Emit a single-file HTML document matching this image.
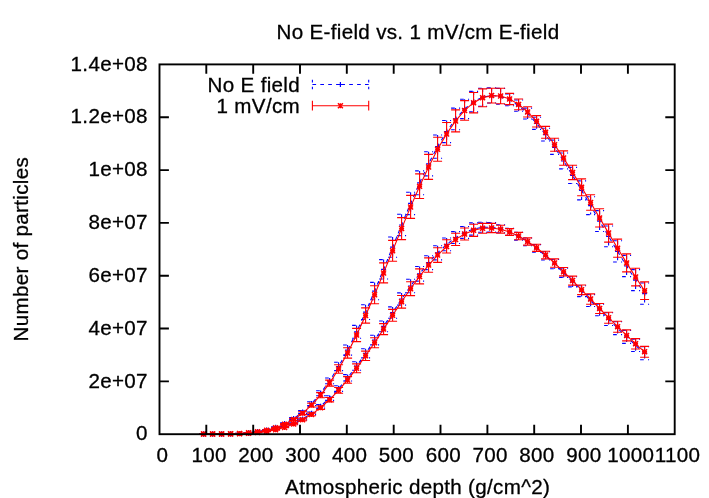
<!DOCTYPE html>
<html><head><meta charset="utf-8"><title>No E-field vs. 1 mV/cm E-field</title>
<style>
html,body{margin:0;padding:0;background:#fff;}
body{width:709px;height:498px;overflow:hidden;}
svg{display:block;will-change:transform;}
text{font-family:"Liberation Sans",sans-serif;font-size:20.6px;letter-spacing:0.31px;fill:#000;stroke:#000;stroke-width:0.3px;}
</style></head><body>
<svg width="709" height="498" viewBox="0 0 709 498">
<rect width="709" height="498" fill="#fff"/>
<g id="blue">
<polyline fill="none" stroke="#0000ff" stroke-width="1.1" stroke-dasharray="3.7 4.2" points="203.6,434.1 212.6,434.0 221.6,433.9 230.6,433.7 239.6,433.4 248.6,432.7 257.6,431.6 266.6,429.9 275.6,427.3 284.6,423.6 293.6,418.6 302.6,412.0 311.6,403.6 320.6,393.3 329.6,380.9 338.6,366.5 347.6,350.1 356.6,331.8 365.6,312.1 374.6,291.1 383.6,269.3 392.6,247.1 401.6,225.0 410.6,203.4 419.6,182.9 428.6,163.8 437.6,146.6 446.6,131.6 455.6,118.9 464.6,108.9 473.6,101.6 482.6,97.2 491.6,95.4 500.6,96.4 509.6,99.9 518.6,105.6 527.6,113.5 536.6,123.3 545.6,134.6 554.6,147.3 563.6,161.0 572.6,175.4 581.6,190.4 590.6,205.7 599.6,221.1 608.6,236.4 617.6,251.4 626.6,266.0 635.6,280.1 644.6,293.6"/>
<path fill="none" stroke="#0000ff" stroke-width="1.1" stroke-dasharray="3.7 4.2" d="M203.6 434.1V434.1M199.1 434.1H208.1M199.1 434.1H208.1M212.6 434.0V434.0M208.1 434.0H217.1M208.1 434.0H217.1M221.6 433.9V434.0M217.1 433.9H226.1M217.1 434.0H226.1M230.6 433.7V433.8M226.1 433.7H235.1M226.1 433.8H235.1M239.6 433.3V433.4M235.1 433.3H244.1M235.1 433.4H244.1M248.6 432.6V432.8M244.1 432.6H253.1M244.1 432.8H253.1M257.6 431.4V431.7M253.1 431.4H262.1M253.1 431.7H262.1M266.6 429.6V430.1M262.1 429.6H271.1M262.1 430.1H271.1M275.6 426.8V427.7M271.1 426.8H280.1M271.1 427.7H280.1M284.6 422.9V424.3M280.1 422.9H289.1M280.1 424.3H289.1M293.6 417.6V419.6M289.1 417.6H298.1M289.1 419.6H298.1M302.6 410.6V413.4M298.1 410.6H307.1M298.1 413.4H307.1M311.6 401.7V405.5M307.1 401.7H316.1M307.1 405.5H316.1M320.6 390.7V395.8M316.1 390.7H325.1M316.1 395.8H325.1M329.6 378.0V383.8M325.1 378.0H334.1M325.1 383.8H334.1M338.6 362.3V370.6M334.1 362.3H343.1M334.1 370.6H343.1M347.6 345.0V355.1M343.1 345.0H352.1M343.1 355.1H352.1M356.6 325.4V338.3M352.1 325.4H361.1M352.1 338.3H361.1M365.6 304.7V319.5M361.1 304.7H370.1M361.1 319.5H370.1M374.6 282.4V299.8M370.1 282.4H379.1M370.1 299.8H379.1M383.6 259.6V279.0M379.1 259.6H388.1M379.1 279.0H388.1M392.6 237.0V257.2M388.1 237.0H397.1M388.1 257.2H397.1M401.6 214.3V235.6M397.1 214.3H406.1M397.1 235.6H406.1M410.6 192.2V214.6M406.1 192.2H415.1M406.1 214.6H415.1M419.6 170.9V194.8M415.1 170.9H424.1M415.1 194.8H424.1M428.6 151.7V175.9M424.1 151.7H433.1M424.1 175.9H433.1M437.6 135.0V158.2M433.1 135.0H442.1M433.1 158.2H442.1M446.6 120.5V142.6M442.1 120.5H451.1M442.1 142.6H451.1M455.6 108.1V129.7M451.1 108.1H460.1M451.1 129.7H460.1M464.6 99.2V118.6M460.1 99.2H469.1M460.1 118.6H469.1M473.6 91.4V111.9M469.1 91.4H478.1M469.1 111.9H478.1M482.6 88.2V106.2M478.1 88.2H487.1M478.1 106.2H487.1M491.6 87.9V103.0M487.1 87.9H496.1M487.1 103.0H496.1M500.6 88.4V104.3M496.1 88.4H505.1M496.1 104.3H505.1M509.6 94.0V105.7M505.1 94.0H514.1M505.1 105.7H514.1M518.6 100.0V111.3M514.1 100.0H523.1M514.1 111.3H523.1M527.6 108.1V119.0M523.1 108.1H532.1M523.1 119.0H532.1M536.6 117.2V129.4M532.1 117.2H541.1M532.1 129.4H541.1M545.6 128.2V141.0M541.1 128.2H550.1M541.1 141.0H550.1M554.6 140.1V154.4M550.1 140.1H559.1M550.1 154.4H559.1M563.6 153.0V168.9M559.1 153.0H568.1M559.1 168.9H568.1M572.6 167.4V183.5M568.1 167.4H577.1M568.1 183.5H577.1M581.6 180.9V199.9M577.1 180.9H586.1M577.1 199.9H586.1M590.6 196.8V214.6M586.1 196.8H595.1M586.1 214.6H595.1M599.6 210.6V231.5M595.1 210.6H604.1M595.1 231.5H604.1M608.6 226.0V246.8M604.1 226.0H613.1M604.1 246.8H613.1M617.6 240.8V262.0M613.1 240.8H622.1M613.1 262.0H622.1M626.6 255.4V276.6M622.1 255.4H631.1M622.1 276.6H631.1M635.6 269.6V290.6M631.1 269.6H640.1M631.1 290.6H640.1M644.6 283.0V304.2M640.1 283.0H649.1M640.1 304.2H649.1"/>
<path fill="none" stroke="#0000ff" stroke-width="1.2" d="M201.1 434.1h5M203.6 431.6v5M210.1 434.0h5M212.6 431.5v5M219.1 433.9h5M221.6 431.4v5M228.1 433.7h5M230.6 431.2v5M237.1 433.4h5M239.6 430.9v5M246.1 432.7h5M248.6 430.2v5M255.1 431.6h5M257.6 429.1v5M264.1 429.9h5M266.6 427.4v5M273.1 427.3h5M275.6 424.8v5M282.1 423.6h5M284.6 421.1v5M291.1 418.6h5M293.6 416.1v5M300.1 412.0h5M302.6 409.5v5M309.1 403.6h5M311.6 401.1v5M318.1 393.3h5M320.6 390.8v5M327.1 380.9h5M329.6 378.4v5M336.1 366.5h5M338.6 364.0v5M345.1 350.1h5M347.6 347.6v5M354.1 331.8h5M356.6 329.3v5M363.1 312.1h5M365.6 309.6v5M372.1 291.1h5M374.6 288.6v5M381.1 269.3h5M383.6 266.8v5M390.1 247.1h5M392.6 244.6v5M399.1 225.0h5M401.6 222.5v5M408.1 203.4h5M410.6 200.9v5M417.1 182.9h5M419.6 180.4v5M426.1 163.8h5M428.6 161.3v5M435.1 146.6h5M437.6 144.1v5M444.1 131.6h5M446.6 129.1v5M453.1 118.9h5M455.6 116.4v5M462.1 108.9h5M464.6 106.4v5M471.1 101.6h5M473.6 99.1v5M480.1 97.2h5M482.6 94.7v5M489.1 95.4h5M491.6 92.9v5M498.1 96.4h5M500.6 93.9v5M507.1 99.9h5M509.6 97.4v5M516.1 105.6h5M518.6 103.1v5M525.1 113.5h5M527.6 111.0v5M534.1 123.3h5M536.6 120.8v5M543.1 134.6h5M545.6 132.1v5M552.1 147.3h5M554.6 144.8v5M561.1 161.0h5M563.6 158.5v5M570.1 175.4h5M572.6 172.9v5M579.1 190.4h5M581.6 187.9v5M588.1 205.7h5M590.6 203.2v5M597.1 221.1h5M599.6 218.6v5M606.1 236.4h5M608.6 233.9v5M615.1 251.4h5M617.6 248.9v5M624.1 266.0h5M626.6 263.5v5M633.1 280.1h5M635.6 277.6v5M642.1 293.6h5M644.6 291.1v5"/>
<polyline fill="none" stroke="#0000ff" stroke-width="1.1" stroke-dasharray="3.7 4.2" points="203.6,434.1 212.6,434.1 221.6,434.0 230.6,433.9 239.6,433.6 248.6,433.2 257.6,432.4 266.6,431.2 275.6,429.4 284.6,426.9 293.6,423.5 302.6,419.0 311.6,413.3 320.6,406.3 329.6,398.1 338.6,388.6 347.6,377.8 356.6,366.0 365.6,353.4 374.6,340.0 383.6,326.3 392.6,312.6 401.6,299.0 410.6,286.0 419.6,273.8 428.6,262.7 437.6,252.8 446.6,244.4 455.6,237.6 464.6,232.4 473.6,229.0 482.6,227.3 491.6,227.3 500.6,228.8 509.6,231.9 518.6,236.2 527.6,241.8 536.6,248.4 545.6,255.9 554.6,264.1 563.6,272.8 572.6,281.9 581.6,291.2 590.6,300.6 599.6,309.9 608.6,319.2 617.6,328.2 626.6,336.9 635.6,345.3 644.6,353.2"/>
<path fill="none" stroke="#0000ff" stroke-width="1.1" stroke-dasharray="3.7 4.2" d="M203.6 434.1V434.1M199.1 434.1H208.1M199.1 434.1H208.1M212.6 434.1V434.1M208.1 434.1H217.1M208.1 434.1H217.1M221.6 434.0V434.0M217.1 434.0H226.1M217.1 434.0H226.1M230.6 433.9V433.9M226.1 433.9H235.1M226.1 433.9H235.1M239.6 433.6V433.7M235.1 433.6H244.1M235.1 433.7H244.1M248.6 433.1V433.2M244.1 433.1H253.1M244.1 433.2H253.1M257.6 432.3V432.5M253.1 432.3H262.1M253.1 432.5H262.1M266.6 431.0V431.4M262.1 431.0H271.1M262.1 431.4H271.1M275.6 429.1V429.7M271.1 429.1H280.1M271.1 429.7H280.1M284.6 426.4V427.3M280.1 426.4H289.1M280.1 427.3H289.1M293.6 422.8V424.1M289.1 422.8H298.1M289.1 424.1H298.1M302.6 418.0V419.9M298.1 418.0H307.1M298.1 419.9H307.1M311.6 412.0V414.6M307.1 412.0H316.1M307.1 414.6H316.1M320.6 404.6V408.1M316.1 404.6H325.1M316.1 408.1H325.1M329.6 395.8V400.4M325.1 395.8H334.1M325.1 400.4H334.1M338.6 385.8V391.4M334.1 385.8H343.1M334.1 391.4H343.1M347.6 374.6V381.0M343.1 374.6H352.1M343.1 381.0H352.1M356.6 361.8V370.3M352.1 361.8H361.1M352.1 370.3H361.1M365.6 348.8V357.9M361.1 348.8H370.1M361.1 357.9H370.1M374.6 335.2V344.9M370.1 335.2H379.1M370.1 344.9H379.1M383.6 321.0V331.7M379.1 321.0H388.1M379.1 331.7H388.1M392.6 306.9V318.3M388.1 306.9H397.1M388.1 318.3H397.1M401.6 292.9V305.1M397.1 292.9H406.1M397.1 305.1H406.1M410.6 279.3V292.7M406.1 279.3H415.1M406.1 292.7H415.1M419.6 266.5V281.1M415.1 266.5H424.1M415.1 281.1H424.1M428.6 255.7V269.6M424.1 255.7H433.1M424.1 269.6H433.1M437.6 245.7V259.9M433.1 245.7H442.1M433.1 259.9H442.1M446.6 238.0V250.8M442.1 238.0H451.1M442.1 250.8H451.1M455.6 231.6V243.5M451.1 231.6H460.1M451.1 243.5H460.1M464.6 226.5V238.4M460.1 226.5H469.1M460.1 238.4H469.1M473.6 222.9V235.1M469.1 222.9H478.1M469.1 235.1H478.1M482.6 222.3V232.2M478.1 222.3H487.1M478.1 232.2H487.1M491.6 222.5V232.0M487.1 222.5H496.1M487.1 232.0H496.1M500.6 224.8V232.8M496.1 224.8H505.1M496.1 232.8H505.1M509.6 228.3V235.4M505.1 228.3H514.1M505.1 235.4H514.1M518.6 232.3V240.1M514.1 232.3H523.1M514.1 240.1H523.1M527.6 238.0V245.7M523.1 238.0H532.1M523.1 245.7H532.1M536.6 244.6V252.3M532.1 244.6H541.1M532.1 252.3H541.1M545.6 251.8V260.0M541.1 251.8H550.1M541.1 260.0H550.1M554.6 259.5V268.7M550.1 259.5H559.1M550.1 268.7H559.1M563.6 268.1V277.4M559.1 268.1H568.1M559.1 277.4H568.1M572.6 276.8V286.9M568.1 276.8H577.1M568.1 286.9H577.1M581.6 285.7V296.6M577.1 285.7H586.1M577.1 296.6H586.1M590.6 294.6V306.5M586.1 294.6H595.1M586.1 306.5H595.1M599.6 304.2V315.7M595.1 304.2H604.1M595.1 315.7H604.1M608.6 312.8V325.5M604.1 312.8H613.1M604.1 325.5H613.1M617.6 321.8V334.6M613.1 321.8H622.1M613.1 334.6H622.1M626.6 330.4V343.4M622.1 330.4H631.1M622.1 343.4H631.1M635.6 339.1V351.5M631.1 339.1H640.1M631.1 351.5H640.1M644.6 346.8V359.7M640.1 346.8H649.1M640.1 359.7H649.1"/>
<path fill="none" stroke="#0000ff" stroke-width="1.2" d="M201.1 434.1h5M203.6 431.6v5M210.1 434.1h5M212.6 431.6v5M219.1 434.0h5M221.6 431.5v5M228.1 433.9h5M230.6 431.4v5M237.1 433.6h5M239.6 431.1v5M246.1 433.2h5M248.6 430.7v5M255.1 432.4h5M257.6 429.9v5M264.1 431.2h5M266.6 428.7v5M273.1 429.4h5M275.6 426.9v5M282.1 426.9h5M284.6 424.4v5M291.1 423.5h5M293.6 421.0v5M300.1 419.0h5M302.6 416.5v5M309.1 413.3h5M311.6 410.8v5M318.1 406.3h5M320.6 403.8v5M327.1 398.1h5M329.6 395.6v5M336.1 388.6h5M338.6 386.1v5M345.1 377.8h5M347.6 375.3v5M354.1 366.0h5M356.6 363.5v5M363.1 353.4h5M365.6 350.9v5M372.1 340.0h5M374.6 337.5v5M381.1 326.3h5M383.6 323.8v5M390.1 312.6h5M392.6 310.1v5M399.1 299.0h5M401.6 296.5v5M408.1 286.0h5M410.6 283.5v5M417.1 273.8h5M419.6 271.3v5M426.1 262.7h5M428.6 260.2v5M435.1 252.8h5M437.6 250.3v5M444.1 244.4h5M446.6 241.9v5M453.1 237.6h5M455.6 235.1v5M462.1 232.4h5M464.6 229.9v5M471.1 229.0h5M473.6 226.5v5M480.1 227.3h5M482.6 224.8v5M489.1 227.3h5M491.6 224.8v5M498.1 228.8h5M500.6 226.3v5M507.1 231.9h5M509.6 229.4v5M516.1 236.2h5M518.6 233.7v5M525.1 241.8h5M527.6 239.3v5M534.1 248.4h5M536.6 245.9v5M543.1 255.9h5M545.6 253.4v5M552.1 264.1h5M554.6 261.6v5M561.1 272.8h5M563.6 270.3v5M570.1 281.9h5M572.6 279.4v5M579.1 291.2h5M581.6 288.7v5M588.1 300.6h5M590.6 298.1v5M597.1 309.9h5M599.6 307.4v5M606.1 319.2h5M608.6 316.7v5M615.1 328.2h5M617.6 325.7v5M624.1 336.9h5M626.6 334.4v5M633.1 345.3h5M635.6 342.8v5M642.1 353.2h5M644.6 350.7v5"/>
</g>
<g id="red">
<polyline fill="none" stroke="#ff0000" stroke-width="1.1" points="203.6,434.1 212.6,434.0 221.6,434.0 230.6,433.8 239.6,433.4 248.6,432.8 257.6,431.8 266.6,430.2 275.6,427.8 284.6,424.3 293.6,419.5 302.6,413.2 311.6,405.1 320.6,395.1 329.6,383.1 338.6,369.0 347.6,352.9 356.6,335.0 365.6,315.5 374.6,294.7 383.6,272.9 392.6,250.8 401.6,228.6 410.6,206.9 419.6,186.2 428.6,166.9 437.6,149.3 446.6,133.9 455.6,120.9 464.6,110.4 473.6,102.7 482.6,97.8 491.6,95.6 500.6,96.0 509.6,99.0 518.6,104.4 527.6,111.9 536.6,121.3 545.6,132.3 554.6,144.7 563.6,158.1 572.6,172.4 581.6,187.3 590.6,202.5 599.6,217.9 608.6,233.1 617.6,248.2 626.6,262.9 635.6,277.1 644.6,290.7"/>
<path fill="none" stroke="#ff0000" stroke-width="1.1" d="M203.6 434.1V434.1M199.1 434.1H208.1M199.1 434.1H208.1M212.6 434.0V434.1M208.1 434.0H217.1M208.1 434.1H217.1M221.6 434.0V434.0M217.1 434.0H226.1M217.1 434.0H226.1M230.6 433.8V433.8M226.1 433.8H235.1M226.1 433.8H235.1M239.6 433.4V433.5M235.1 433.4H244.1M235.1 433.5H244.1M248.6 432.8V432.9M244.1 432.8H253.1M244.1 432.9H253.1M257.6 431.7V432.0M253.1 431.7H262.1M253.1 432.0H262.1M266.6 429.9V430.4M262.1 429.9H271.1M262.1 430.4H271.1M275.6 427.4V428.2M271.1 427.4H280.1M271.1 428.2H280.1M284.6 423.6V424.9M280.1 423.6H289.1M280.1 424.9H289.1M293.6 418.6V420.5M289.1 418.6H298.1M289.1 420.5H298.1M302.6 411.8V414.6M298.1 411.8H307.1M298.1 414.6H307.1M311.6 403.2V407.0M307.1 403.2H316.1M307.1 407.0H316.1M320.6 392.6V397.7M316.1 392.6H325.1M316.1 397.7H325.1M329.6 380.1V386.1M325.1 380.1H334.1M325.1 386.1H334.1M338.6 364.7V373.3M334.1 364.7H343.1M334.1 373.3H343.1M347.6 347.7V358.1M343.1 347.7H352.1M343.1 358.1H352.1M356.6 328.4V341.6M352.1 328.4H361.1M352.1 341.6H361.1M365.6 307.9V323.1M361.1 307.9H370.1M361.1 323.1H370.1M374.6 285.7V303.7M370.1 285.7H379.1M370.1 303.7H379.1M383.6 262.9V282.9M379.1 262.9H388.1M379.1 282.9H388.1M392.6 240.4V261.2M388.1 240.4H397.1M388.1 261.2H397.1M401.6 217.6V239.6M397.1 217.6H406.1M397.1 239.6H406.1M410.6 195.4V218.4M406.1 195.4H415.1M406.1 218.4H415.1M419.6 173.9V198.5M415.1 173.9H424.1M415.1 198.5H424.1M428.6 154.4V179.4M424.1 154.4H433.1M424.1 179.4H433.1M437.6 137.3V161.3M433.1 137.3H442.1M433.1 161.3H442.1M446.6 122.5V145.3M442.1 122.5H451.1M442.1 145.3H451.1M455.6 109.9V131.9M451.1 109.9H460.1M451.1 131.9H460.1M464.6 100.6V120.2M460.1 100.6H469.1M460.1 120.2H469.1M473.6 92.5V112.9M469.1 92.5H478.1M469.1 112.9H478.1M482.6 88.9V106.7M478.1 88.9H487.1M478.1 106.7H487.1M491.6 88.2V103.0M487.1 88.2H496.1M487.1 103.0H496.1M500.6 88.3V103.7M496.1 88.3H505.1M496.1 103.7H505.1M509.6 93.4V104.6M505.1 93.4H514.1M505.1 104.6H514.1M518.6 99.0V109.8M514.1 99.0H523.1M514.1 109.8H523.1M527.6 106.8V117.0M523.1 106.8H532.1M523.1 117.0H532.1M536.6 115.6V127.0M532.1 115.6H541.1M532.1 127.0H541.1M545.6 126.4V138.2M541.1 126.4H550.1M541.1 138.2H550.1M554.6 138.2V151.2M550.1 138.2H559.1M550.1 151.2H559.1M563.6 150.9V165.3M559.1 150.9H568.1M559.1 165.3H568.1M572.6 165.2V179.6M568.1 165.2H577.1M568.1 179.6H577.1M581.6 178.9V195.7M577.1 178.9H586.1M577.1 195.7H586.1M590.6 194.7V210.3M586.1 194.7H595.1M586.1 210.3H595.1M599.6 208.8V227.0M595.1 208.8H604.1M595.1 227.0H604.1M608.6 224.1V242.1M604.1 224.1H613.1M604.1 242.1H613.1M617.6 239.1V257.3M613.1 239.1H622.1M613.1 257.3H622.1M626.6 253.9V271.9M622.1 253.9H631.1M622.1 271.9H631.1M635.6 268.3V285.9M631.1 268.3H640.1M631.1 285.9H640.1M644.6 281.9V299.5M640.1 281.9H649.1M640.1 299.5H649.1"/>
<path fill="none" stroke="#ff0000" stroke-width="1.4" d="M201.1 431.6l5 5M201.1 436.6l5 -5M201.1 434.1h5M203.6 431.6v5M210.1 431.5l5 5M210.1 436.5l5 -5M210.1 434.0h5M212.6 431.5v5M219.1 431.5l5 5M219.1 436.5l5 -5M219.1 434.0h5M221.6 431.5v5M228.1 431.3l5 5M228.1 436.3l5 -5M228.1 433.8h5M230.6 431.3v5M237.1 430.9l5 5M237.1 435.9l5 -5M237.1 433.4h5M239.6 430.9v5M246.1 430.3l5 5M246.1 435.3l5 -5M246.1 432.8h5M248.6 430.3v5M255.1 429.3l5 5M255.1 434.3l5 -5M255.1 431.8h5M257.6 429.3v5M264.1 427.7l5 5M264.1 432.7l5 -5M264.1 430.2h5M266.6 427.7v5M273.1 425.3l5 5M273.1 430.3l5 -5M273.1 427.8h5M275.6 425.3v5M282.1 421.8l5 5M282.1 426.8l5 -5M282.1 424.3h5M284.6 421.8v5M291.1 417.0l5 5M291.1 422.0l5 -5M291.1 419.5h5M293.6 417.0v5M300.1 410.7l5 5M300.1 415.7l5 -5M300.1 413.2h5M302.6 410.7v5M309.1 402.6l5 5M309.1 407.6l5 -5M309.1 405.1h5M311.6 402.6v5M318.1 392.6l5 5M318.1 397.6l5 -5M318.1 395.1h5M320.6 392.6v5M327.1 380.6l5 5M327.1 385.6l5 -5M327.1 383.1h5M329.6 380.6v5M336.1 366.5l5 5M336.1 371.5l5 -5M336.1 369.0h5M338.6 366.5v5M345.1 350.4l5 5M345.1 355.4l5 -5M345.1 352.9h5M347.6 350.4v5M354.1 332.5l5 5M354.1 337.5l5 -5M354.1 335.0h5M356.6 332.5v5M363.1 313.0l5 5M363.1 318.0l5 -5M363.1 315.5h5M365.6 313.0v5M372.1 292.2l5 5M372.1 297.2l5 -5M372.1 294.7h5M374.6 292.2v5M381.1 270.4l5 5M381.1 275.4l5 -5M381.1 272.9h5M383.6 270.4v5M390.1 248.3l5 5M390.1 253.3l5 -5M390.1 250.8h5M392.6 248.3v5M399.1 226.1l5 5M399.1 231.1l5 -5M399.1 228.6h5M401.6 226.1v5M408.1 204.4l5 5M408.1 209.4l5 -5M408.1 206.9h5M410.6 204.4v5M417.1 183.7l5 5M417.1 188.7l5 -5M417.1 186.2h5M419.6 183.7v5M426.1 164.4l5 5M426.1 169.4l5 -5M426.1 166.9h5M428.6 164.4v5M435.1 146.8l5 5M435.1 151.8l5 -5M435.1 149.3h5M437.6 146.8v5M444.1 131.4l5 5M444.1 136.4l5 -5M444.1 133.9h5M446.6 131.4v5M453.1 118.4l5 5M453.1 123.4l5 -5M453.1 120.9h5M455.6 118.4v5M462.1 107.9l5 5M462.1 112.9l5 -5M462.1 110.4h5M464.6 107.9v5M471.1 100.2l5 5M471.1 105.2l5 -5M471.1 102.7h5M473.6 100.2v5M480.1 95.3l5 5M480.1 100.3l5 -5M480.1 97.8h5M482.6 95.3v5M489.1 93.1l5 5M489.1 98.1l5 -5M489.1 95.6h5M491.6 93.1v5M498.1 93.5l5 5M498.1 98.5l5 -5M498.1 96.0h5M500.6 93.5v5M507.1 96.5l5 5M507.1 101.5l5 -5M507.1 99.0h5M509.6 96.5v5M516.1 101.9l5 5M516.1 106.9l5 -5M516.1 104.4h5M518.6 101.9v5M525.1 109.4l5 5M525.1 114.4l5 -5M525.1 111.9h5M527.6 109.4v5M534.1 118.8l5 5M534.1 123.8l5 -5M534.1 121.3h5M536.6 118.8v5M543.1 129.8l5 5M543.1 134.8l5 -5M543.1 132.3h5M545.6 129.8v5M552.1 142.2l5 5M552.1 147.2l5 -5M552.1 144.7h5M554.6 142.2v5M561.1 155.6l5 5M561.1 160.6l5 -5M561.1 158.1h5M563.6 155.6v5M570.1 169.9l5 5M570.1 174.9l5 -5M570.1 172.4h5M572.6 169.9v5M579.1 184.8l5 5M579.1 189.8l5 -5M579.1 187.3h5M581.6 184.8v5M588.1 200.0l5 5M588.1 205.0l5 -5M588.1 202.5h5M590.6 200.0v5M597.1 215.4l5 5M597.1 220.4l5 -5M597.1 217.9h5M599.6 215.4v5M606.1 230.6l5 5M606.1 235.6l5 -5M606.1 233.1h5M608.6 230.6v5M615.1 245.7l5 5M615.1 250.7l5 -5M615.1 248.2h5M617.6 245.7v5M624.1 260.4l5 5M624.1 265.4l5 -5M624.1 262.9h5M626.6 260.4v5M633.1 274.6l5 5M633.1 279.6l5 -5M633.1 277.1h5M635.6 274.6v5M642.1 288.2l5 5M642.1 293.2l5 -5M642.1 290.7h5M644.6 288.2v5"/>
<polyline fill="none" stroke="#ff0000" stroke-width="1.1" points="203.6,434.1 212.6,434.1 221.6,434.0 230.6,433.9 239.6,433.7 248.6,433.3 257.6,432.6 266.6,431.5 275.6,429.8 284.6,427.4 293.6,424.1 302.6,419.8 311.6,414.4 320.6,407.7 329.6,399.7 338.6,390.4 347.6,379.9 356.6,368.3 365.6,355.8 374.6,342.7 383.6,329.1 392.6,315.3 401.6,301.8 410.6,288.7 419.6,276.4 428.6,265.1 437.6,255.1 446.6,246.4 455.6,239.4 464.6,234.0 473.6,230.3 482.6,228.3 491.6,228.0 500.6,229.2 509.6,232.0 518.6,236.1 527.6,241.5 536.6,247.8 545.6,255.1 554.6,263.1 563.6,271.7 572.6,280.6 581.6,289.8 590.6,299.1 599.6,308.5 608.6,317.7 617.6,326.7 626.6,335.4 635.6,343.8 644.6,351.8"/>
<path fill="none" stroke="#ff0000" stroke-width="1.1" d="M203.6 434.1V434.1M199.1 434.1H208.1M199.1 434.1H208.1M212.6 434.1V434.1M208.1 434.1H217.1M208.1 434.1H217.1M221.6 434.0V434.0M217.1 434.0H226.1M217.1 434.0H226.1M230.6 433.9V433.9M226.1 433.9H235.1M226.1 433.9H235.1M239.6 433.6V433.7M235.1 433.6H244.1M235.1 433.7H244.1M248.6 433.2V433.3M244.1 433.2H253.1M244.1 433.3H253.1M257.6 432.5V432.7M253.1 432.5H262.1M253.1 432.7H262.1M266.6 431.3V431.6M262.1 431.3H271.1M262.1 431.6H271.1M275.6 429.5V430.1M271.1 429.5H280.1M271.1 430.1H280.1M284.6 427.0V427.8M280.1 427.0H289.1M280.1 427.8H289.1M293.6 423.5V424.8M289.1 423.5H298.1M289.1 424.8H298.1M302.6 418.9V420.8M298.1 418.9H307.1M298.1 420.8H307.1M311.6 413.1V415.7M307.1 413.1H316.1M307.1 415.7H316.1M320.6 406.0V409.4M316.1 406.0H325.1M316.1 409.4H325.1M329.6 397.5V401.9M325.1 397.5H334.1M325.1 401.9H334.1M338.6 387.5V393.3M334.1 387.5H343.1M334.1 393.3H343.1M347.6 376.6V383.2M343.1 376.6H352.1M343.1 383.2H352.1M356.6 363.9V372.7M352.1 363.9H361.1M352.1 372.7H361.1M365.6 351.1V360.5M361.1 351.1H370.1M361.1 360.5H370.1M374.6 337.7V347.7M370.1 337.7H379.1M370.1 347.7H379.1M383.6 323.6V334.6M379.1 323.6H388.1M379.1 334.6H388.1M392.6 309.4V321.2M388.1 309.4H397.1M388.1 321.2H397.1M401.6 295.5V308.1M397.1 295.5H406.1M397.1 308.1H406.1M410.6 281.8V295.6M406.1 281.8H415.1M406.1 295.6H415.1M419.6 268.9V283.9M415.1 268.9H424.1M415.1 283.9H424.1M428.6 257.9V272.3M424.1 257.9H433.1M424.1 272.3H433.1M437.6 247.8V262.4M433.1 247.8H442.1M433.1 262.4H442.1M446.6 239.8V253.0M442.1 239.8H451.1M442.1 253.0H451.1M455.6 233.3V245.5M451.1 233.3H460.1M451.1 245.5H460.1M464.6 228.0V240.0M460.1 228.0H469.1M460.1 240.0H469.1M473.6 224.2V236.4M469.1 224.2H478.1M469.1 236.4H478.1M482.6 223.4V233.2M478.1 223.4H487.1M478.1 233.2H487.1M491.6 223.4V232.6M487.1 223.4H496.1M487.1 232.6H496.1M500.6 225.3V233.1M496.1 225.3H505.1M496.1 233.1H505.1M509.6 228.6V235.4M505.1 228.6H514.1M505.1 235.4H514.1M518.6 232.4V239.8M514.1 232.4H523.1M514.1 239.8H523.1M527.6 237.9V245.1M523.1 237.9H532.1M523.1 245.1H532.1M536.6 244.2V251.4M532.1 244.2H541.1M532.1 251.4H541.1M545.6 251.3V258.9M541.1 251.3H550.1M541.1 258.9H550.1M554.6 258.9V267.3M550.1 258.9H559.1M550.1 267.3H559.1M563.6 267.5V275.9M559.1 267.5H568.1M559.1 275.9H568.1M572.6 276.1V285.1M568.1 276.1H577.1M568.1 285.1H577.1M581.6 285.0V294.6M577.1 285.0H586.1M577.1 294.6H586.1M590.6 293.9V304.3M586.1 293.9H595.1M586.1 304.3H595.1M599.6 303.5V313.5M595.1 303.5H604.1M595.1 313.5H604.1M608.6 312.2V323.2M604.1 312.2H613.1M604.1 323.2H613.1M617.6 321.2V332.2M613.1 321.2H622.1M613.1 332.2H622.1M626.6 329.9V340.9M622.1 329.9H631.1M622.1 340.9H631.1M635.6 338.6V349.0M631.1 338.6H640.1M631.1 349.0H640.1M644.6 346.4V357.2M640.1 346.4H649.1M640.1 357.2H649.1"/>
<path fill="none" stroke="#ff0000" stroke-width="1.4" d="M201.1 431.6l5 5M201.1 436.6l5 -5M201.1 434.1h5M203.6 431.6v5M210.1 431.6l5 5M210.1 436.6l5 -5M210.1 434.1h5M212.6 431.6v5M219.1 431.5l5 5M219.1 436.5l5 -5M219.1 434.0h5M221.6 431.5v5M228.1 431.4l5 5M228.1 436.4l5 -5M228.1 433.9h5M230.6 431.4v5M237.1 431.2l5 5M237.1 436.2l5 -5M237.1 433.7h5M239.6 431.2v5M246.1 430.8l5 5M246.1 435.8l5 -5M246.1 433.3h5M248.6 430.8v5M255.1 430.1l5 5M255.1 435.1l5 -5M255.1 432.6h5M257.6 430.1v5M264.1 429.0l5 5M264.1 434.0l5 -5M264.1 431.5h5M266.6 429.0v5M273.1 427.3l5 5M273.1 432.3l5 -5M273.1 429.8h5M275.6 427.3v5M282.1 424.9l5 5M282.1 429.9l5 -5M282.1 427.4h5M284.6 424.9v5M291.1 421.6l5 5M291.1 426.6l5 -5M291.1 424.1h5M293.6 421.6v5M300.1 417.3l5 5M300.1 422.3l5 -5M300.1 419.8h5M302.6 417.3v5M309.1 411.9l5 5M309.1 416.9l5 -5M309.1 414.4h5M311.6 411.9v5M318.1 405.2l5 5M318.1 410.2l5 -5M318.1 407.7h5M320.6 405.2v5M327.1 397.2l5 5M327.1 402.2l5 -5M327.1 399.7h5M329.6 397.2v5M336.1 387.9l5 5M336.1 392.9l5 -5M336.1 390.4h5M338.6 387.9v5M345.1 377.4l5 5M345.1 382.4l5 -5M345.1 379.9h5M347.6 377.4v5M354.1 365.8l5 5M354.1 370.8l5 -5M354.1 368.3h5M356.6 365.8v5M363.1 353.3l5 5M363.1 358.3l5 -5M363.1 355.8h5M365.6 353.3v5M372.1 340.2l5 5M372.1 345.2l5 -5M372.1 342.7h5M374.6 340.2v5M381.1 326.6l5 5M381.1 331.6l5 -5M381.1 329.1h5M383.6 326.6v5M390.1 312.8l5 5M390.1 317.8l5 -5M390.1 315.3h5M392.6 312.8v5M399.1 299.3l5 5M399.1 304.3l5 -5M399.1 301.8h5M401.6 299.3v5M408.1 286.2l5 5M408.1 291.2l5 -5M408.1 288.7h5M410.6 286.2v5M417.1 273.9l5 5M417.1 278.9l5 -5M417.1 276.4h5M419.6 273.9v5M426.1 262.6l5 5M426.1 267.6l5 -5M426.1 265.1h5M428.6 262.6v5M435.1 252.6l5 5M435.1 257.6l5 -5M435.1 255.1h5M437.6 252.6v5M444.1 243.9l5 5M444.1 248.9l5 -5M444.1 246.4h5M446.6 243.9v5M453.1 236.9l5 5M453.1 241.9l5 -5M453.1 239.4h5M455.6 236.9v5M462.1 231.5l5 5M462.1 236.5l5 -5M462.1 234.0h5M464.6 231.5v5M471.1 227.8l5 5M471.1 232.8l5 -5M471.1 230.3h5M473.6 227.8v5M480.1 225.8l5 5M480.1 230.8l5 -5M480.1 228.3h5M482.6 225.8v5M489.1 225.5l5 5M489.1 230.5l5 -5M489.1 228.0h5M491.6 225.5v5M498.1 226.7l5 5M498.1 231.7l5 -5M498.1 229.2h5M500.6 226.7v5M507.1 229.5l5 5M507.1 234.5l5 -5M507.1 232.0h5M509.6 229.5v5M516.1 233.6l5 5M516.1 238.6l5 -5M516.1 236.1h5M518.6 233.6v5M525.1 239.0l5 5M525.1 244.0l5 -5M525.1 241.5h5M527.6 239.0v5M534.1 245.3l5 5M534.1 250.3l5 -5M534.1 247.8h5M536.6 245.3v5M543.1 252.6l5 5M543.1 257.6l5 -5M543.1 255.1h5M545.6 252.6v5M552.1 260.6l5 5M552.1 265.6l5 -5M552.1 263.1h5M554.6 260.6v5M561.1 269.2l5 5M561.1 274.2l5 -5M561.1 271.7h5M563.6 269.2v5M570.1 278.1l5 5M570.1 283.1l5 -5M570.1 280.6h5M572.6 278.1v5M579.1 287.3l5 5M579.1 292.3l5 -5M579.1 289.8h5M581.6 287.3v5M588.1 296.6l5 5M588.1 301.6l5 -5M588.1 299.1h5M590.6 296.6v5M597.1 306.0l5 5M597.1 311.0l5 -5M597.1 308.5h5M599.6 306.0v5M606.1 315.2l5 5M606.1 320.2l5 -5M606.1 317.7h5M608.6 315.2v5M615.1 324.2l5 5M615.1 329.2l5 -5M615.1 326.7h5M617.6 324.2v5M624.1 332.9l5 5M624.1 337.9l5 -5M624.1 335.4h5M626.6 332.9v5M633.1 341.3l5 5M633.1 346.3l5 -5M633.1 343.8h5M635.6 341.3v5M642.1 349.3l5 5M642.1 354.3l5 -5M642.1 351.8h5M644.6 349.3v5"/>
</g>
<g id="legend">
<path fill="none" stroke="#0000ff" stroke-width="1.1" stroke-dasharray="3.7 4.2" d="M312.4 84.5H340.4M368.7 84.5H340.4M312.4 79.8v2.6M312.4 89.3v-2.6M368.7 79.8v2.6M368.7 89.3v-2.6"/>
<path fill="none" stroke="#0000ff" stroke-width="1.2" d="M337.9 84.5h5M340.4 82v5"/>
<path fill="none" stroke="#ff0000" stroke-width="1.1" d="M312.4 105.7H368.7M312.4 100.8V110.6M368.7 100.8V110.6"/>
<path fill="none" stroke="#ff0000" stroke-width="1.4" d="M337.9 103.2l5 5M337.9 108.2l5 -5M340.4 103.2v5"/>
</g>
<g id="axes">
<rect x="159.5" y="64.4" width="515.2" height="369.8" fill="none" stroke="#000" stroke-width="1.9"/>
<path fill="none" stroke="#000" stroke-width="1.9" d="M206.3 434.2v-9.4M206.3 64.4v9.4M253.2 434.2v-9.4M253.2 64.4v9.4M300.0 434.2v-9.4M300.0 64.4v9.4M346.8 434.2v-9.4M346.8 64.4v9.4M393.7 434.2v-9.4M393.7 64.4v9.4M440.5 434.2v-9.4M440.5 64.4v9.4M487.4 434.2v-9.4M487.4 64.4v9.4M534.2 434.2v-9.4M534.2 64.4v9.4M581.0 434.2v-9.4M581.0 64.4v9.4M627.9 434.2v-9.4M627.9 64.4v9.4M159.5 381.4h9.4M674.7 381.4h-9.4M159.5 328.5h9.4M674.7 328.5h-9.4M159.5 275.7h9.4M674.7 275.7h-9.4M159.5 222.9h9.4M674.7 222.9h-9.4M159.5 170.1h9.4M674.7 170.1h-9.4M159.5 117.2h9.4M674.7 117.2h-9.4"/>
</g>
<g id="labels">
<text x="147.8" y="440.3" text-anchor="end">0</text>
<text x="147.8" y="387.5" text-anchor="end">2e+07</text>
<text x="147.8" y="334.6" text-anchor="end">4e+07</text>
<text x="147.8" y="281.8" text-anchor="end">6e+07</text>
<text x="147.8" y="229.0" text-anchor="end">8e+07</text>
<text x="147.8" y="176.2" text-anchor="end">1e+08</text>
<text x="147.8" y="123.3" text-anchor="end">1.2e+08</text>
<text x="147.8" y="70.5" text-anchor="end">1.4e+08</text>
<text x="162.3" y="462.3" text-anchor="middle">0</text>
<text x="209.1" y="462.3" text-anchor="middle">100</text>
<text x="256.0" y="462.3" text-anchor="middle">200</text>
<text x="302.8" y="462.3" text-anchor="middle">300</text>
<text x="349.6" y="462.3" text-anchor="middle">400</text>
<text x="396.5" y="462.3" text-anchor="middle">500</text>
<text x="443.3" y="462.3" text-anchor="middle">600</text>
<text x="490.2" y="462.3" text-anchor="middle">700</text>
<text x="537.0" y="462.3" text-anchor="middle">800</text>
<text x="583.8" y="462.3" text-anchor="middle">900</text>
<text x="630.7" y="462.3" text-anchor="middle">1000</text>
<text x="677.5" y="462.3" text-anchor="middle">1100</text>
<text x="418" y="39.3" text-anchor="middle">No E-field vs. 1 mV/cm E-field</text>
<text x="417.6" y="494.2" text-anchor="middle">Atmospheric depth (g/cm^2)</text>
<text transform="translate(27.8,249.2) rotate(-90)" text-anchor="middle">Number of particles</text>
<text x="300" y="91.5" text-anchor="end">No E field</text>
<text x="300" y="112.9" text-anchor="end">1 mV/cm</text>
</g>
</svg>
</body></html>
